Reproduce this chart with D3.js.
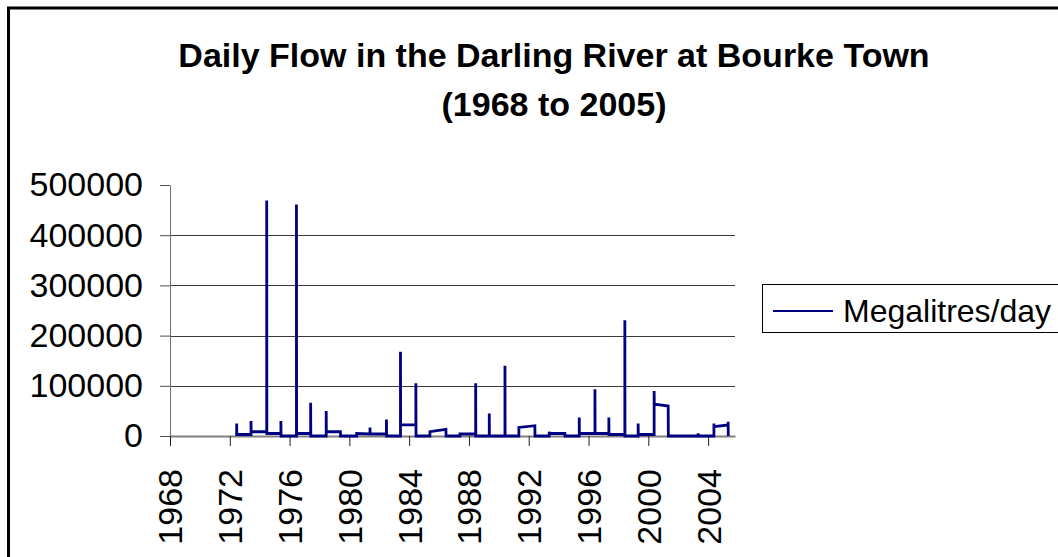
<!DOCTYPE html>
<html>
<head>
<meta charset="utf-8">
<script src="https://cdn.jsdelivr.net/npm/d3@7"></script>
<style>
  body { margin: 0; background: #fff; }
  text { font-family: Arial, "Liberation Sans", sans-serif; }
</style>
</head>
<body>
<div id="chart"></div>
<script>
const chart_width = 1058;
const chart_height = 557;
const margin_left = 170;
const plot_right = 735;
const plot_top = 185;
const plot_bottom = 436;

const title_lines = ["Daily Flow in the Darling River at Bourke Town", "(1968 to 2005)"];
const series_name = "Megalitres/day";
const year_ticks = [1968, 1972, 1976, 1980, 1984, 1988, 1992, 1996, 2000, 2004];
const flow_ticks = [0, 100000, 200000, 300000, 400000, 500000];
const grid_ticks = [100000, 200000, 300000, 400000];

// polyline vertices (decimal year, ML/day)
const sample_years = [
  1972.46, 1972.46, 1972.47, 1973.42, 1973.42, 1973.43, 1974.47, 1974.47, 1974.48,
  1975.42, 1975.42, 1975.43, 1976.46, 1976.46, 1976.47, 1977.41, 1977.41, 1977.42,
  1978.45, 1978.45, 1978.46, 1979.40, 1979.41, 1980.49, 1980.49, 1981.38, 1981.38,
  1981.39, 1982.48, 1982.48, 1982.49, 1983.42, 1983.42, 1983.43, 1984.45, 1984.45,
  1984.46, 1985.39, 1985.39, 1986.46, 1986.47, 1987.40, 1987.40, 1988.45, 1988.45,
  1988.46, 1989.36, 1989.36, 1989.37, 1990.41, 1990.41, 1990.42, 1991.34, 1991.34,
  1992.41, 1992.42, 1993.37, 1993.37, 1993.38, 1994.42, 1994.43, 1995.38, 1995.38,
  1995.39, 1996.43, 1996.43, 1996.44, 1997.36, 1997.36, 1997.37, 1998.43, 1998.43,
  1998.44, 1999.32, 1999.32, 1999.33, 2000.39, 2000.39, 2000.40, 2001.33, 2001.34,
  2003.30, 2003.34, 2003.38, 2004.39, 2004.39, 2004.40, 2005.34, 2005.34, 2005.35
];
const flow_values = [
  0, 25000, 3000, 3000, 30000, 8500, 8500, 469000, 5000,
  5000, 30000, 0, 0, 461000, 5000, 5000, 66000, 0,
  0, 50000, 8500, 8500, 0, 0, 5000, 4000, 17000,
  4000, 4000, 33000, 0, 0, 167600, 22000, 22000, 105000,
  0, 0, 8500, 13000, 0, 0, 4000, 4000, 105000,
  0, 0, 45000, 0, 0, 140000, 0, 0, 17000,
  20500, 0, 0, 8500, 5000, 5000, 0, 0, 37000,
  5000, 5000, 93000, 5000, 5000, 37000, 3000, 3000, 230600,
  0, 0, 25000, 3000, 3000, 89500, 63600, 59600, 0,
  0, 5000, 0, 0, 25000, 18500, 22000, 28500, 0
];

const flow_data = sample_years.map((yr, i) => ({ year: yr, value: flow_values[i] }));

const svg = d3.select("#chart")
  .append("svg")
  .attr("width", chart_width)
  .attr("height", chart_height);

// outer chart frame (runs off the right and bottom edges)
svg.append("rect")
  .attr("x", 8.5)
  .attr("y", 8)
  .attr("width", 1200)
  .attr("height", 700)
  .attr("fill", "none")
  .attr("stroke", "#000")
  .attr("stroke-width", 3);

svg.selectAll(".title")
  .data(title_lines)
  .join("text")
  .attr("class", "title")
  .attr("x", 554)
  .attr("y", (d, i) => 67 + i * 49)
  .attr("text-anchor", "middle")
  .attr("font-size", "34px")
  .attr("font-weight", "bold")
  .text(d => d);

const x = d3.scaleLinear()
  .domain([1968, 2005.8])
  .range([margin_left, plot_right]);

const y = d3.scaleLinear()
  .domain([0, 500000])
  .range([plot_bottom, plot_top]);

svg.append("g")
  .selectAll("line")
  .data(grid_ticks)
  .join("line")
  .attr("x1", margin_left)
  .attr("x2", plot_right)
  .attr("y1", d => Math.round(y(d)) + 0.5)
  .attr("y2", d => Math.round(y(d)) + 0.5)
  .attr("stroke", "#3a3a3a")
  .attr("stroke-width", 1);

const yAxis = svg.append("g")
  .attr("transform", `translate(${margin_left},0)`)
  .call(d3.axisLeft(y).tickValues(flow_ticks).tickSize(10).tickSizeOuter(0).tickPadding(17).tickFormat(d3.format("d")));

yAxis.select(".domain").attr("stroke", "#707070");
yAxis.selectAll(".tick line").attr("stroke", "#505050");
yAxis.selectAll("text")
  .attr("font-size", "34px")
  .attr("font-family", "Arial, 'Liberation Sans', sans-serif")
  .attr("fill", "#000");

const xAxis = svg.append("g")
  .attr("transform", `translate(0,${plot_bottom})`)
  .call(d3.axisBottom(x).tickValues(year_ticks).tickSize(10).tickSizeOuter(0).tickFormat(d3.format("d")));

xAxis.select(".domain").attr("stroke", "#808080").attr("stroke-width", 2);
xAxis.selectAll(".tick line").attr("stroke", "#202020");
xAxis.selectAll("text")
  .attr("transform", "rotate(-90)")
  .attr("text-anchor", "end")
  .attr("x", -33)
  .attr("y", 0)
  .attr("dy", "0.35em")
  .attr("font-size", "34px")
  .attr("font-family", "Arial, 'Liberation Sans', sans-serif")
  .attr("fill", "#000");

svg.append("path")
  .datum(flow_data)
  .attr("fill", "none")
  .attr("stroke", "#000080")
  .attr("stroke-width", 2.8)
  .attr("d", d3.line().x(d => x(d.year)).y(d => y(d.value)));

// legend box, clipped by the page edge like the original
const legend = svg.append("g");

legend.append("rect")
  .attr("x", 762.5)
  .attr("y", 284.5)
  .attr("width", 400)
  .attr("height", 48)
  .attr("fill", "#fff")
  .attr("stroke", "#000")
  .attr("stroke-width", 1);

legend.append("line")
  .attr("x1", 773)
  .attr("x2", 833)
  .attr("y1", 311)
  .attr("y2", 311)
  .attr("stroke", "#000080")
  .attr("stroke-width", 2);

legend.append("text")
  .attr("x", 843)
  .attr("y", 322)
  .attr("font-size", "32px")
  .text(series_name);
</script>
</body>
</html>
